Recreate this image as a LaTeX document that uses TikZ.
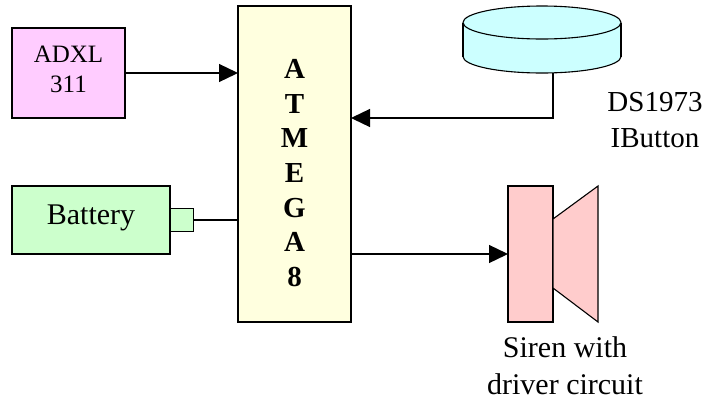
\documentclass[tikz,border=0pt]{standalone}
\usepackage{fontspec}
\setmainfont{Liberation Serif}
\usepackage{xcolor}
\usetikzlibrary{shapes, arrows.meta, positioning, calc}

\definecolor{adxlpink}{HTML}{FFCCFF}
\definecolor{chipyellow}{HTML}{FFFFDF}
\definecolor{battgreen}{HTML}{CCFFCC}
\definecolor{buttoncyan}{HTML}{CCFFFF}
\definecolor{sirenred}{HTML}{FFCCCC}

\begin{document}
\begin{tikzpicture}[
            x=1pt, y=-1pt,
            block/.style={rectangle, draw, line width=1.3pt, inner sep=0pt, outer sep=0pt},
            disc/.style={ellipse, draw, line width=1.1pt, fill=buttoncyan, minimum width=158pt, minimum height=33pt, inner sep=0pt, outer sep=0pt},
            label/.style={font=\fontsize{29}{35}\selectfont, align=center, inner sep=0pt},
            wire/.style={line width=1.3pt},
            signal/.style={wire, -{Triangle[length=19pt, width=18pt]}}
        ]
        \useasboundingbox (0,0) rectangle (705,400);

        \node[block, fill=chipyellow, minimum width=113pt, minimum height=316pt] (atmega) at (294.5,164) {};
        \node[block, fill=adxlpink, minimum width=113pt, minimum height=90pt] (adxl) at (68.5,73) {};
        \node[block, fill=battgreen, minimum width=158pt, minimum height=68pt] (battery) at (91,220) {};
        \node[block, fill=battgreen, line width=1pt, minimum width=23pt, minimum height=23pt, right=0pt of battery] (terminal) {};
        \node[block, fill=sirenred, minimum width=45pt, minimum height=136pt] (siren_body) at (530.5,254) {};

        % IButton can
        \node[disc] (ibutton_base) at (542,56.5) {};
        \fill[buttoncyan] (463,23) rectangle (621,56.5);
        \draw[line width=1.1pt] (463,23) -- (ibutton_base.west);
        \draw[line width=1.1pt] (621,23) -- (ibutton_base.east);
        \node[disc] (ibutton_top) at (542,22.5) {};

        % Siren horn
        \draw[line width=1.1pt, fill=sirenred] (553,219) -- (598,186) -- (598,322) -- (553,288) -- cycle;

        % Texts
        \node[label, font=\fontsize{25}{30}\selectfont] (adxl_text) at (68.5,69) {ADXL\\311};
        \node[label, font=\fontsize{30}{35}\selectfont] (battery_text) at (91,218) {Battery};
        \node[label, font=\fontsize{29}{34.7}\selectfont\bfseries] (atmega_text) at (294.5,173) {A\\T\\M\\E\\G\\A\\8};
        \node[label, font=\fontsize{29}{36}\selectfont] (ibutton_text) at (655,120) {DS1973\\IButton};
        \node[label, font=\fontsize{30}{37}\selectfont] (siren_text) at (565,366) {Siren with\\driver circuit};

        % Connections
        \draw[signal] (adxl.east) -- (adxl.east -| atmega.west);
        \draw[wire] (terminal.east) -- (terminal.east -| atmega.west);
        \draw[signal] (ibutton_base.south -| siren_body.east) |- ([yshift=46pt]atmega.east);
        \draw[signal] (siren_body.west -| atmega.east) -- (siren_body.west);

    \end{tikzpicture}
\end{document}
